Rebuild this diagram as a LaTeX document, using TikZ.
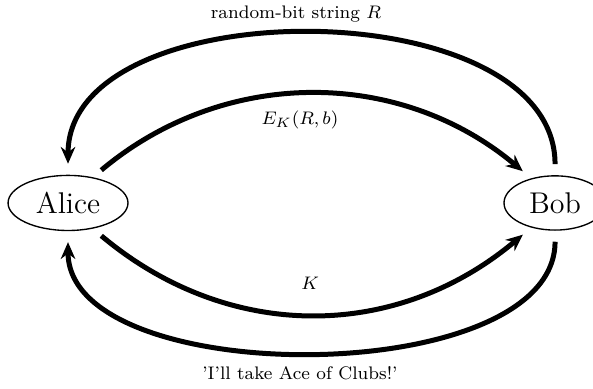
\documentclass[tikz,border=0pt]{standalone}
\usepackage{amsmath}
\usepackage{tikz}
\usetikzlibrary{shapes.geometric, arrows.meta, positioning}
\tikzset{
  party/.style={ellipse, draw, semithick, inner xsep=4.5pt, inner ysep=3.8pt,
    font=\fontsize{13.2}{15}\selectfont},
  msgarrow/.style={-{Stealth[length=7.4pt, width=6.4pt]}, line width=2.2pt,
    shorten <=0.17cm, shorten >=0.17cm},
  msglabel/.style={font=\footnotesize}
}
\begin{document}
\begin{tikzpicture}
  \useasboundingbox (-1.053,-2.879) rectangle (8.127,3.142);
  % the two parties
  \node[party] (alice) {Alice};
  \node[party, right=5.8cm of alice] (bob) {Bob};
  % messages
  \node[msglabel] (rbits) at (3.53,2.93) {random-bit string $R$};
  \node[msglabel] (commit) at (3.59,1.285) {$E_K(R,b)$};
  \node[msglabel] (key) at (3.75,-1.24) {$K$};
  \node[msglabel] (guess) at (3.59,-2.63) {'I'll take Ace of Clubs!'};
  \draw[msgarrow] (bob.north) to[out=90, in=90, looseness=0.98] (alice.north);
  \draw[msgarrow] (alice.46) to[out=40, in=140] (bob.134);
  \draw[msgarrow] (alice.-46) to[out=-40, in=-140, looseness=1.03] (bob.-134);
  \draw[msgarrow] (bob.south) to[out=-90, in=-90, looseness=0.84] (alice.south);
\end{tikzpicture}
\end{document}
